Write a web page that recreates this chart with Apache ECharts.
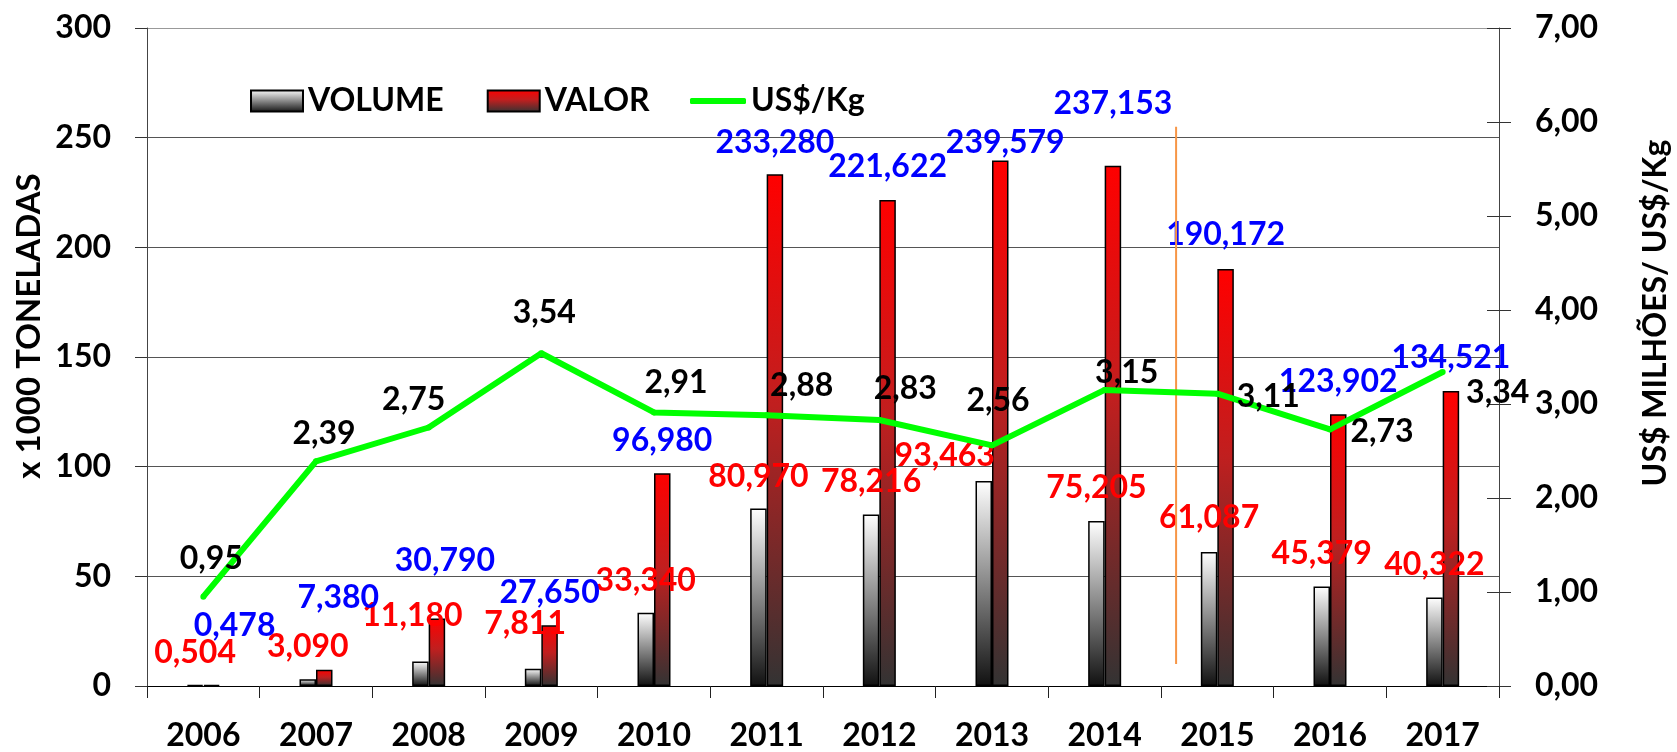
<!DOCTYPE html>
<html><head><meta charset="utf-8">
<script src="https://cdn.jsdelivr.net/npm/echarts@6/dist/echarts.min.js"></script>
<style>html,body{margin:0;padding:0;background:#fff}#c{width:1677px;height:752px}</style>
</head><body><div id="c"></div>
<script>
// ---- data ----
const years = ['2006','2007','2008','2009','2010','2011','2012','2013','2014','2015','2016','2017'];
const volume = [0.504, 3.090, 11.180, 7.811, 33.340, 80.970, 78.216, 93.463, 75.205, 61.087, 45.379, 40.322];
const valor = [0.478, 7.380, 30.790, 27.650, 96.980, 233.280, 221.622, 239.579, 237.153, 190.172, 123.902, 134.521];
const price = [0.95, 2.39, 2.75, 3.54, 2.91, 2.88, 2.83, 2.56, 3.15, 3.11, 2.73, 3.34];
const leftAxis = {min: 0, max: 300, interval: 50};
const rightAxis = {min: 0, max: 7, interval: 1};
const seriesNames = ['VOLUME', 'VALOR', 'US$/Kg'];
const leftTitle = 'x 1000 TONELADAS';
const rightTitle = 'US$ MILHÕES/ US$/Kg';

// ---- label placement (style, not data) ----
const volumeLabelOffsets = [[0,-32],[0,-33],[-8,-46],[-8,-45],[0,-32],[0,-32],[0,-33],[-39,-25],[0,-33],[0,-34],[0,-33],[0,-33]];
const valorLabelOffsets = [[23,-59],[14,-72],[8,-58],[0,-33],[0,-33],[0,-32],[0,-33],[5,-18],[0,-62],[0,-34],[0,-33],[0,-33]];
const priceLabelOffsets = [[8,-35],[8,-25],[-15,-25],[3,-38],[22,-27],[35,-27],[26,-28],[6,-42],[22,-14],[51,6],[52,5],[55,24]];

const FONT = 'Lato';
const fmt = (v, d) => v.toFixed(d).replace('.', ',');

const chart = echarts.init(document.getElementById('c'), null, {renderer: 'canvas'});

const volGrad = new echarts.graphic.LinearGradient(0, 0, 0, 1, [
  {offset: 0, color: '#ffffff'}, {offset: 1, color: '#111111'}]);
const valGrad = new echarts.graphic.LinearGradient(0, 0, 0, 1, [
  {offset: 0, color: '#ff0000'}, {offset: 0.45, color: '#c01f1f'}, {offset: 1, color: '#333333'}]);

function labelItems(values, offsets) {
  return values.map((v, i) => ({
    value: v,
    label: {offset: offsets[i]}
  }));
}
const labelBase = (color, digits) => ({
  show: true, position: 'top', distance: 0, verticalAlign: 'middle', align: 'center',
  color: color, fontFamily: FONT, fontWeight: 'bold', fontSize: 32, lineHeight: 32,
  formatter: p => fmt(p.value, digits)
});

const axisLabelStyle = {color: '#000', fontFamily: FONT, fontWeight: 'bold', fontSize: 32};

const option = {
  backgroundColor: '#fff',
  animation: false,
  grid: {left: 147, right: 178, top: 28, bottom: 63, containLabel: false},
  legend: [{
    data: [seriesNames[0], seriesNames[1]],
    left: 245, top: 80, itemWidth: 52, itemHeight: 21, itemGap: 43, icon: 'rect',
    textStyle: {color: '#000', fontFamily: FONT, fontWeight: 'bold', fontSize: 32}
  }, {
    data: [seriesNames[2]],
    left: 685, top: 80, itemWidth: 56, itemHeight: 6, icon: 'roundRect',
    textStyle: {color: '#000', fontFamily: FONT, fontWeight: 'bold', fontSize: 32}
  }],
  xAxis: {
    type: 'category', data: years,
    axisLine: {lineStyle: {color: '#000', width: 1}},
    axisTick: {show: true, length: 12, lineStyle: {color: '#222'}},
    axisLabel: Object.assign({margin: 34, interval: 0, lineHeight: 32}, axisLabelStyle)
  },
  yAxis: [{
    type: 'value', min: leftAxis.min, max: leftAxis.max, interval: leftAxis.interval,
    axisLine: {show: true, lineStyle: {color: '#444'}},
    axisTick: {show: true, length: 12, lineStyle: {color: '#333'}},
    splitLine: {show: true, lineStyle: {color: ['#555','#555','#555','#555','#555','#555','#999'], width: 1}},
    axisLabel: Object.assign({margin: 36}, axisLabelStyle)
  }, {
    type: 'value', position: 'right', min: rightAxis.min, max: rightAxis.max, interval: rightAxis.interval,
    axisLine: {show: true, lineStyle: {color: '#444'}},
    axisTick: {show: true, length: 12, lineStyle: {color: '#333'}},
    splitLine: {show: false},
    axisLabel: Object.assign({margin: 36, formatter: v => fmt(v, 2)}, axisLabelStyle)
  }, {
    type: 'value', position: 'right', min: rightAxis.min, max: rightAxis.max, interval: rightAxis.interval,
    axisLine: {show: false},
    axisTick: {show: true, inside: true, length: 12, lineStyle: {color: '#333'}},
    splitLine: {show: false},
    axisLabel: {show: false}
  }],
  series: [{
    name: seriesNames[0], type: 'bar', yAxisIndex: 0, barWidth: 16.5, barGap: '0%',
    itemStyle: {color: volGrad, borderColor: '#000', borderWidth: 1.5},
    label: labelBase('#ff0000', 3),
    data: labelItems(volume, volumeLabelOffsets),
    z: 2
  }, {
    name: seriesNames[1], type: 'bar', yAxisIndex: 0, barWidth: 16.5, barGap: '0%',
    itemStyle: {color: valGrad, borderColor: '#000', borderWidth: 1.5},
    label: labelBase('#0000ff', 3),
    data: labelItems(valor, valorLabelOffsets),
    z: 2
  }, {
    name: seriesNames[2], type: 'line', yAxisIndex: 1,
    symbol: 'circle', symbolSize: 6, showSymbol: true,
    itemStyle: {color: '#00ff00'},
    lineStyle: {color: '#00ff00', width: 6},
    label: labelBase('#000000', 2),
    data: labelItems(price, priceLabelOffsets),
    z: 5
  }]
};
chart.setOption(option);

// annotation: orange separator between 2014 and 2015, and axis titles
const x14 = chart.convertToPixel({xAxisIndex: 0}, '2014');
const x15 = chart.convertToPixel({xAxisIndex: 0}, '2015');
const xs = x14 + 0.634 * (x15 - x14);
const yTop = chart.convertToPixel({yAxisIndex: 0}, 255);
const yBot = chart.convertToPixel({yAxisIndex: 0}, 10);

chart.setOption({
  graphic: [{
    id: 'sep', type: 'line', z: 4,
    shape: {x1: xs, y1: yTop, x2: xs, y2: yBot},
    style: {stroke: '#F79646', lineWidth: 2}
  }, {
    id: 'ltitle', type: 'text', x: 29, y: 326, rotation: Math.PI / 2,
    style: {text: leftTitle, fill: '#000', font: 'bold 33px ' + FONT, textAlign: 'center', textVerticalAlign: 'middle'}
  }, {
    id: 'rtitle', type: 'text', x: 1656, y: 313, rotation: Math.PI / 2,
    style: {text: rightTitle, fill: '#000', font: 'bold 32px ' + FONT, textAlign: 'center', textVerticalAlign: 'middle'}
  }]
});
</script>
</body></html>
